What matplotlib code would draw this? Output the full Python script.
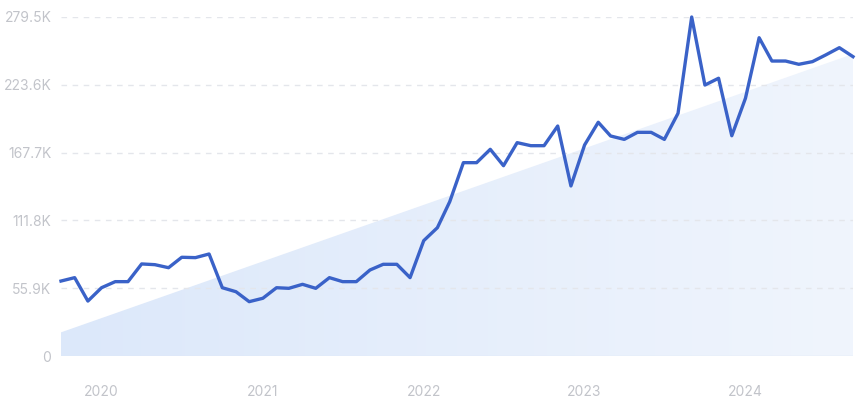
import matplotlib
matplotlib.use("Agg")
import matplotlib.pyplot as plt
import numpy as np
import pandas as pd
from matplotlib.colors import LinearSegmentedColormap
from matplotlib.patches import Polygon

plt.rcParams["font.family"] = ["Inter", "DejaVu Sans"]

# monthly values, Oct 2019 .. Sep 2024 (thousands)
months = pd.date_range("2019-10-01", periods=60, freq="MS")
traffic = [
    61.8, 64.6, 45.3, 56.3, 61.3, 61.3, 75.9, 75.3, 72.8, 81.4, 81.1, 84.1,
    56.3, 53.0, 44.8, 47.6, 56.3, 55.8, 59.1, 55.8, 64.6, 61.3, 61.3, 70.9,
    75.6, 75.6, 64.6, 95.1, 105.8, 127.2, 159.4, 159.4, 170.4, 156.9, 175.9, 173.4,
    173.4, 189.6, 140.2, 174.0, 192.7, 181.4, 178.6, 184.4, 184.4, 178.6, 200.1, 279.5,
    223.4, 229.0, 181.6, 212.5, 262.4, 243.2, 243.2, 240.5, 242.7, 248.2, 254.2, 246.8,
]
yticks = [0, 55.9, 111.8, 167.7, 223.6, 279.5]
ytick_labels = ["0", "55.9K", "111.8K", "167.7K", "223.6K", "279.5K"]
year_ticks = ["2020", "2021", "2022", "2023", "2024"]
# decorative trend wedge behind the line (start / end height)
wedge = [19.5, 249.0]

fig = plt.figure(figsize=(8.62, 4), dpi=100)
ax = fig.add_axes([61 / 862, 44 / 400, 792 / 862, 339 / 400])

x = matplotlib.dates.date2num(months)
x0, x1 = x[0], x[-1]

# gradient wedge
cmap = LinearSegmentedColormap.from_list("w", ["#dce8fa", "#f0f5fd"])
grad = np.linspace(0, 1, 256).reshape(1, -1)
img = ax.imshow(grad, cmap=cmap, aspect="auto", extent=[x0, x1, 0, yticks[-1]],
                origin="lower", zorder=1)
poly = Polygon([[x0, 0], [x0, wedge[0]], [x1, wedge[1]], [x1, 0]],
               closed=True, facecolor="none", edgecolor="none")
ax.add_patch(poly)
img.set_clip_path(poly)

ax.plot(x, traffic, color="#3a62c8", lw=2.4, zorder=4, clip_on=False,
        solid_joinstyle="round")

ax.set_xlim(x0, x1)
ax.set_ylim(0, yticks[-1])
ax.set_yticks(yticks)
ax.set_yticklabels(ytick_labels)
ax.set_xticks(matplotlib.dates.date2num(pd.to_datetime([y + "-01-01" for y in year_ticks])))
ax.set_xticklabels(year_ticks)

for v in yticks[1:]:
    ax.axhline(v, color="#e4e6eb", lw=1, ls=(0, (4, 4)), zorder=2)
ax.axhline(0, color="#dfe8f6", lw=1, zorder=3)

for s in ax.spines.values():
    s.set_visible(False)
ax.tick_params(axis="both", length=0, colors="#c2c4ca", labelsize=10)
ax.tick_params(axis="y", pad=7)
ax.tick_params(axis="x", pad=21)

fig.savefig("out.png", dpi=100)
